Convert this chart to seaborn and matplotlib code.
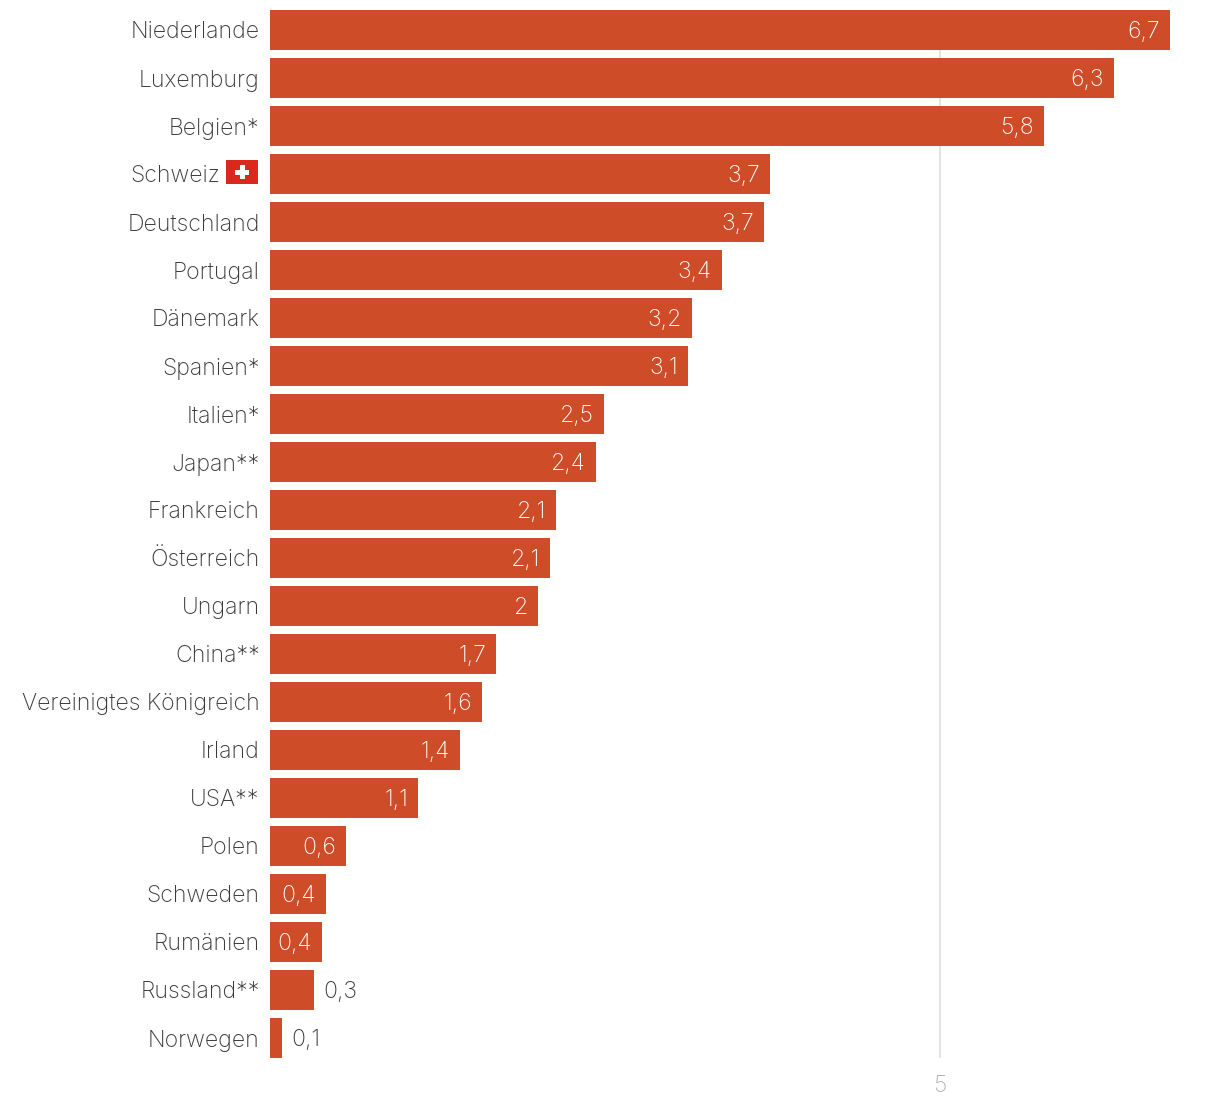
import matplotlib
matplotlib.use("Agg")
import matplotlib.pyplot as plt
from matplotlib.patches import Rectangle
from matplotlib.transforms import IdentityTransform, ScaledTranslation
import pandas as pd
import seaborn as sns

countries = ["Niederlande", "Luxemburg", "Belgien*", "Schweiz", "Deutschland", "Portugal",
             "Dänemark", "Spanien*", "Italien*", "Japan**", "Frankreich", "Österreich",
             "Ungarn", "China**", "Vereinigtes Königreich", "Irland", "USA**", "Polen",
             "Schweden", "Rumänien", "Russland**", "Norwegen"]
values = [6.72, 6.30, 5.775, 3.73, 3.69, 3.37, 3.15, 3.12, 2.49, 2.43, 2.135, 2.09,
          2.00, 1.69, 1.58, 1.42, 1.105, 0.57, 0.42, 0.39, 0.33, 0.09]
value_labels = ["6,7", "6,3", "5,8", "3,7", "3,7", "3,4", "3,2", "3,1", "2,5", "2,4", "2,1", "2,1",
                "2", "1,7", "1,6", "1,4", "1,1", "0,6", "0,4", "0,4", "0,3", "0,1"]
outside = ["Russland**", "Norwegen"]

W, H = 1220, 1106
BAR = "#CE4C27"
FONT = "Inter"
FS = 16.6

sns.set_theme(style="white")
plt.rcParams["font.family"] = [FONT, "DejaVu Sans"]
plt.rcParams["font.weight"] = "light"

df = pd.DataFrame({"land": countries, "wert": values})
fig = plt.figure(figsize=(W / 100, H / 100), dpi=100, facecolor="white")
ax = fig.add_axes([270 / W, (H - 1058) / H, (W - 270) / W, (1058 - 10) / H])
sns.barplot(data=df, y="land", x="wert", color=BAR, saturation=1, width=40 / 48, ax=ax,
            zorder=3, linewidth=0, edgecolor="none")

ax.set_xlim(0, (W - 270) / 134)
ax.set_ylim(len(countries) - 1 + 20 / 48, -20 / 48)
ax.set_xlabel("")
ax.set_ylabel("")
sns.despine(ax=ax, left=True, bottom=True, top=True, right=True)

ax.set_xticks([5])
ax.set_xticklabels(["5"], color="#b4b4b4", fontsize=FS, fontweight="light")
ax.xaxis.grid(True, color="#e3e3e3", linewidth=1.4, zorder=0)
ax.set_axisbelow(True)
ax.tick_params(axis="x", length=0, pad=12.5)
ax.tick_params(axis="y", length=0, pad=7.4, labelsize=FS, labelcolor="#3a3a3a")

for lab in ax.get_yticklabels():
    lab.set_fontweight("light")
    if lab.get_text() == "Schweiz":
        lab.set_transform(lab.get_transform() + ScaledTranslation(-40 / 100, 0, fig.dpi_scale_trans))

for i, (c, v, t) in enumerate(zip(countries, values, value_labels)):
    if c in outside:
        ax.annotate(t, (v, i), xytext=(9 * 0.72, 0), textcoords="offset points", ha="left",
                    va="center_baseline", color="#3a3a3a", fontsize=FS, fontweight="light", zorder=4)
    else:
        ax.annotate(t, (v, i), xytext=(-10 * 0.72, 0), textcoords="offset points", ha="right",
                    va="center_baseline", color="white", fontsize=FS, fontweight="light", zorder=4)

# Schweizer Flagge neben der Achsenbeschriftung
tr = IdentityTransform()
fig.add_artist(Rectangle((226, H - 184), 32, 24, transform=tr, facecolor="#DA291C", edgecolor="none"))
fig.add_artist(Rectangle((235, H - 174.5), 14, 5, transform=tr, facecolor="white", edgecolor="none"))
fig.add_artist(Rectangle((239.5, H - 179), 5, 14, transform=tr, facecolor="white", edgecolor="none"))

fig.savefig("out.png", dpi=100, facecolor="white")
